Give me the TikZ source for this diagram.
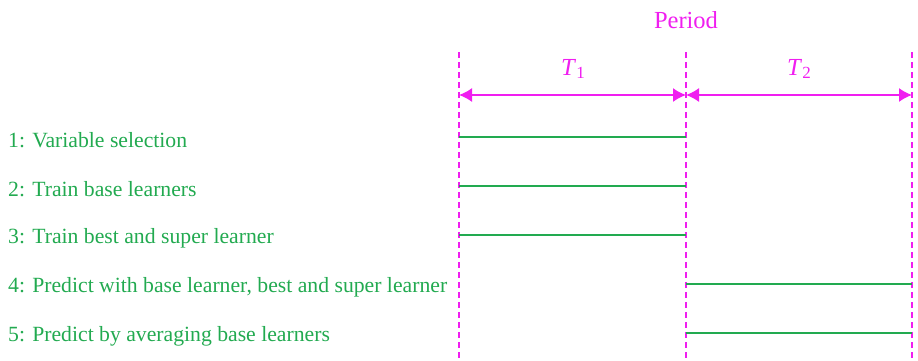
\documentclass[tikz,border=0pt]{standalone}
\usepackage{fontspec}
\setmainfont{Liberation Serif}
\usetikzlibrary{arrows.meta}
\definecolor{mag}{RGB}{240,30,240}
\definecolor{grn}{RGB}{34,170,80}
\newcommand{\subidx}[1]{\raisebox{-0.35ex}{\fontsize{17}{18}\selectfont #1}}
\begin{document}
\begin{tikzpicture}[x=1pt,y=-1pt,
  vdash/.style={mag,line width=1.3pt,dash pattern=on 6pt off 4pt},
  span/.style={mag,line width=1.5pt,{Latex[length=13pt,width=14pt]}-{Latex[length=13pt,width=14pt]}},
  bar/.style={grn,line width=1.2pt},
  steplabel/.style={grn,font=\fontsize{21.7}{24}\selectfont,anchor=west,inner sep=0pt},
  maglabel/.style={mag,font=\fontsize{24.5}{26}\selectfont,inner sep=0pt}]
\useasboundingbox (0,0) rectangle (918,360);
% vertical dashed guides
\coordinate (a0) at (459,52); \coordinate (a1) at (459,360);
\coordinate (b0) at (686,52); \coordinate (b1) at (686,360);
\coordinate (c0) at (912,52); \coordinate (c1) at (912,360);
\draw[vdash] (a0) -- (a1);
\draw[vdash] (b0) -- (b1);
\draw[vdash] (c0) -- (c1);
% spans
\coordinate (pa) at (459,95); \coordinate (pb) at (686,95); \coordinate (pc) at (912,95);
\draw[span] (pa) -- (pb);
\draw[span] (pb) -- (pc);
\node[maglabel] (period) at (686,20) {Period};
\node[maglabel] (t1) at (573,69) {\textit{T}\subidx{1}};
\node[maglabel] (t2) at (799,69) {\textit{T}\subidx{2}};
% steps
\node[steplabel] (s1) at (8,140) {1: Variable selection};
\node[steplabel] (s2) at (8,189) {2: Train base learners};
\node[steplabel] (s3) at (8,238) {3: Train best and super learner};
\node[steplabel] (s4) at (8,287) {4: Predict with base learner, best and super learner};
\node[steplabel] (s5) at (8,336) {5: Predict by averaging base learners};
% bars
\coordinate (l1a) at (459,137); \coordinate (l1b) at (686,137);
\coordinate (l2a) at (459,186); \coordinate (l2b) at (686,186);
\coordinate (l3a) at (459,235); \coordinate (l3b) at (686,235);
\coordinate (l4a) at (686,284); \coordinate (l4b) at (912,284);
\coordinate (l5a) at (686,333); \coordinate (l5b) at (912,333);
\draw[bar] (l1a) -- (l1b);
\draw[bar] (l2a) -- (l2b);
\draw[bar] (l3a) -- (l3b);
\draw[bar] (l4a) -- (l4b);
\draw[bar] (l5a) -- (l5b);
\end{tikzpicture}
\end{document}
